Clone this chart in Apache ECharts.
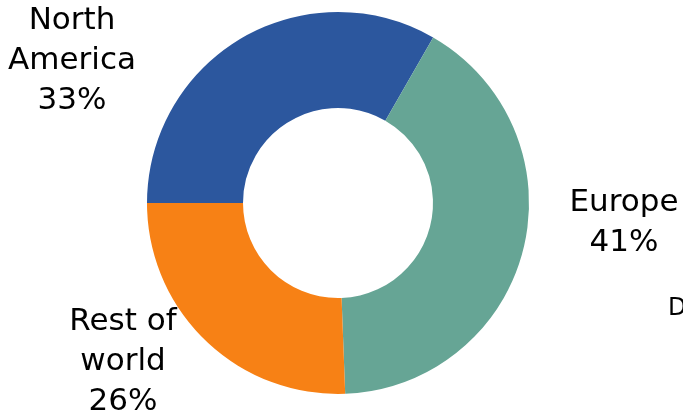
<!DOCTYPE html>
<html>
<head>
<meta charset="utf-8">
<script src="https://cdn.jsdelivr.net/npm/echarts@6/dist/echarts.min.js"></script>
<style>
  html, body { margin: 0; padding: 0; background: #fff; }
  #main { width: 683px; height: 418px; }
</style>
</head>
<body>
<div id="main"></div>
<script>
// data
var regions = ['North\nAmerica', 'Europe', 'Rest of\nworld'];
var shares = [33.3, 41.1, 25.6];
var colors = ['#2C579E', '#66A595', '#F78115'];

// where each label block sits (centre)
var labelPos = [[72, 61], [624, 223], [123, 362]];

var chartDom = document.getElementById('main');
var myChart = echarts.init(chartDom);
var option;

var pieData = regions.map(function (name, i) {
  return { name: name, value: shares[i], itemStyle: { color: colors[i] } };
});

option = {
  animation: false,
  graphic: [
    {
      type: 'text',
      left: 668,
      top: 297,
      style: { text: 'D', fontSize: 24, fontFamily: 'DejaVu Sans', fill: '#000' }
    }
  ],
  series: [
    {
      type: 'pie',
      center: [338, 203],
      radius: [95, 191],
      startAngle: 180,
      clockwise: true,
      data: pieData,
      label: {
        show: true,
        position: 'outside',
        overflow: 'none',
        width: 200,
        formatter: function (p) {
          return p.name + '\n' + Math.round(p.percent) + '%';
        },
        fontFamily: 'DejaVu Sans',
        fontSize: 31,
        lineHeight: 40,
        color: '#000',
        align: 'center'
      },
      labelLine: { show: false },
      labelLayout: function (params) {
        var pos = labelPos[params.dataIndex];
        return {
          x: pos[0],
          y: pos[1],
          align: 'center',
          verticalAlign: 'middle'
        };
      }
    }
  ]
};

option && myChart.setOption(option);
</script>
</body>
</html>
